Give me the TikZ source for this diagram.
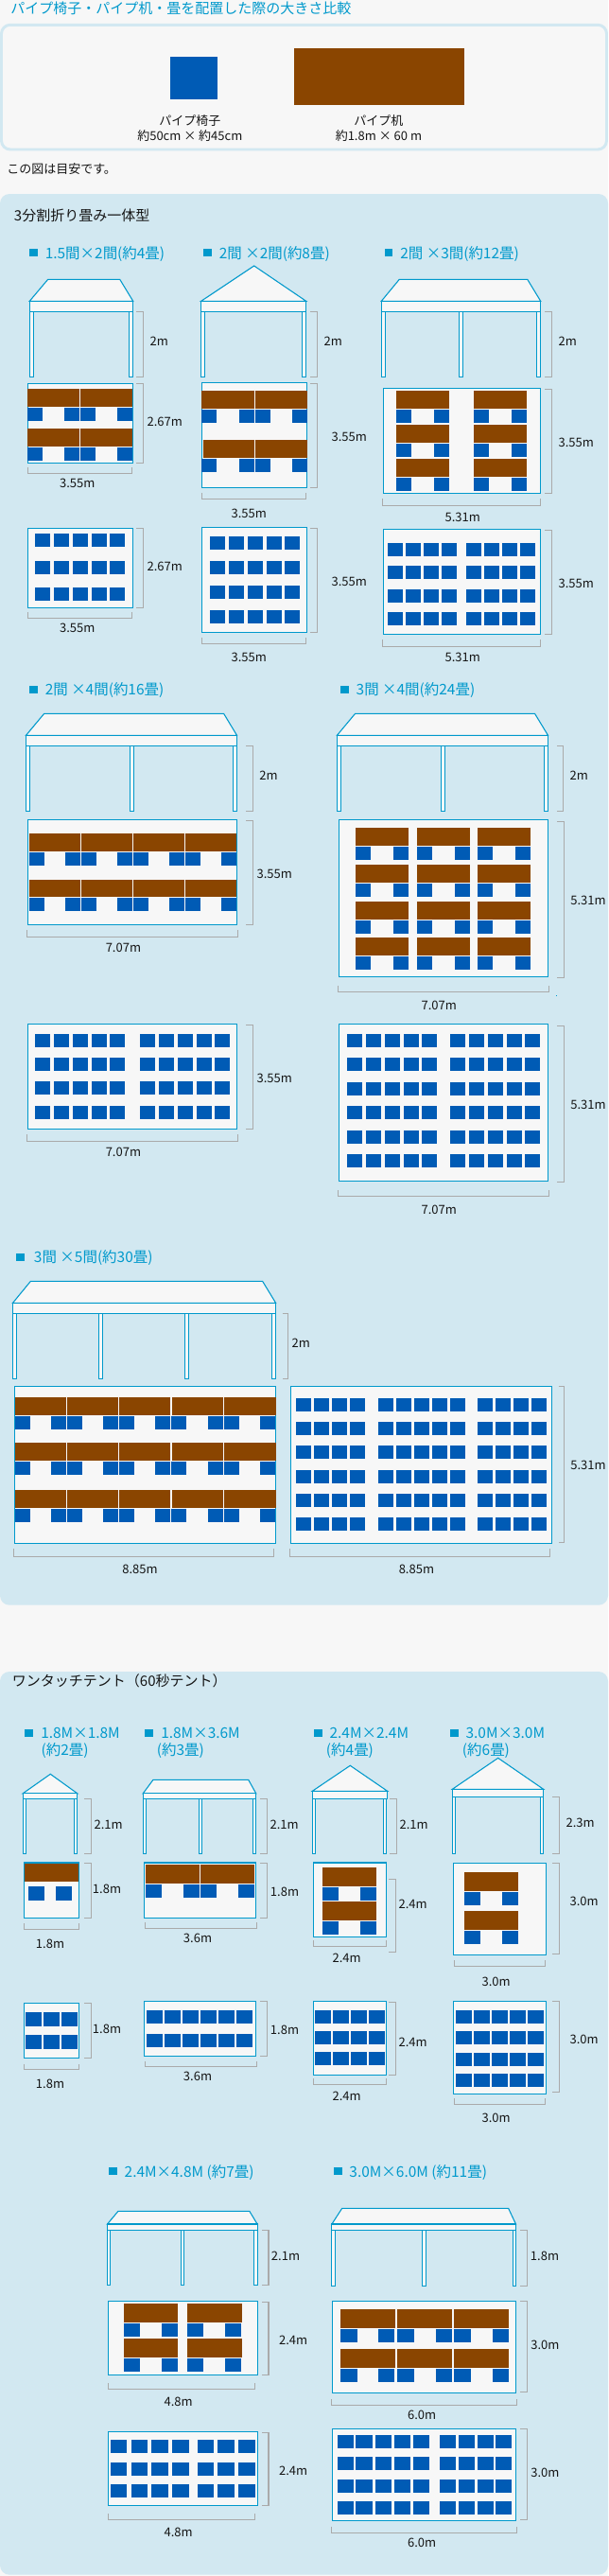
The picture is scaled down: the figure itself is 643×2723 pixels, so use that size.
\documentclass[tikz,border=0pt]{standalone}
\usepackage{fontspec}
\setmainfont{Noto Sans CJK JP}
\definecolor{pagec}{HTML}{F7F7F7}
\definecolor{panelc}{HTML}{D2E8F1}
\definecolor{linec}{HTML}{0099CC}
\definecolor{chairc}{HTML}{005BB5}
\definecolor{deskc}{HTML}{8A4500}
\definecolor{greyc}{HTML}{AAAAAA}
\definecolor{textc}{HTML}{151515}
\newcounter{lb}
\tikzset{
  panelbox/.style={fill=panelc,rounded corners=7.5pt},
  outl/.style={draw=linec,fill=pagec,line width=.8pt,line join=miter},
  brk/.style={draw=greyc,line width=.8pt},
  lbl/.style={inner sep=0pt,text=textc,font=\fontsize{9.75pt}{11pt}\selectfont,text height=7.3pt,text depth=0pt},
  hd/.style={inner sep=0pt,anchor=west,text=linec,font=\fontsize{11.6pt}{13pt}\selectfont,text height=8.7pt,text depth=0pt},
  ttl/.style={inner sep=0pt,anchor=west,text=textc,font=\fontsize{11.25pt}{13pt}\selectfont,text height=8.4pt,text depth=0pt},
}
\newcommand{\tentdraw}[9]{% l r c1 c2 top bandtop bandbot bottom posts
  \foreach \px in {#9}{\draw[outl] (\px,#7) rectangle ++(\pw,#8-#7);}
  \draw[outl] (#1,#6) -- (#3,#5) -- (#4,#5) -- (#2,#6) -- cycle;
  \draw[outl] (#1,#6) rectangle (#2,#7);
}
\newcommand{\plan}[4]{\draw[outl] (#1,#3) rectangle (#2,#4);}
\newcommand{\chairs}[4]{\foreach \px in {#1}{\foreach \py in {#2}{\fill[chairc] (\px,\py) rectangle ++(#3,#4);}}}
\newcommand{\desks}[4]{\foreach \px in {#1}{\foreach \py in {#2}{\fill[deskc] (\px,\py) rectangle ++(#3,#4);}}}
\newcommand{\vbr}[4]{\draw[brk] (#1,#3) -- (#2,#3) -- (#2,#4) -- (#1,#4);}
\newcommand{\hbr}[4]{\draw[brk] (#1,#3) -- (#1,#4) -- (#2,#4) -- (#2,#3);}
\newcommand{\lab}[3]{\stepcounter{lb}\node[lbl] (lab\thelb) at (#1,#2) {#3};}
\newcommand{\head}[3]{\stepcounter{lb}\node[hd] (lab\thelb) at (#1,#2) {#3};}
\newcommand{\hsq}[2]{\fill[linec] (#1,#2-4) rectangle ++(8.8,8);}
\begin{document}
\begin{tikzpicture}[x=.75pt,y=-.75pt]
\useasboundingbox (0,0) rectangle (643,2723);
\fill[pagec] (0,0) rectangle (643,2723);
% ---- top
\node[hd,font=\fontsize{11.25pt}{13pt}\selectfont] (title) at (11,8.5) {パイプ椅子・パイプ机・畳を配置した際の大きさ比較};
\draw[draw=panelc,fill=pagec,line width=2.2pt,rounded corners=7pt] (1.5,26.3) rectangle (641.5,158);
\fill[chairc] (180,60) rectangle (230,105);
\fill[deskc] (310.7,51) rectangle (490.7,111);
\lab{200.8}{128}{パイプ椅子}
\lab{200.8}{143.7}{約50cm × 約45cm}
\lab{400.4}{128}{パイプ机}
\lab{400.4}{143.7}{約1.8m × 60 m}
\node[lbl,anchor=west] (note) at (7,179) {この図は目安です。};
% ---- panel 1
\fill[panelbox] (0,205) rectangle (643,1696.7);
\node[ttl] (sec1) at (14.7,228.3) {3分割折り畳み一体型};
\hsq{31}{267.3} \head{47.5}{267.3}{1.5間×2間(約4畳)}
\hsq{215}{267.3} \head{231.5}{267.3}{2間 ×2間(約8畳)}
\hsq{406.5}{267.3} \head{423}{267.3}{2間 ×3間(約12畳)}
\def\pw{4.2}
% A
\tentdraw{31.3}{140.7}{50.7}{126.7}{295.3}{318.3}{329.7}{398.7}{31.3,136.4}
\vbr{144}{151.7}{329.7}{398.5}\lab{168.3}{360.7}{2m}
\plan{29.3}{140.7}{405.7}{489.3}
\desks{29.3}{411,452.7}{54.7}{19}\desks{85}{411,452.7}{55}{19}
\chairs{29.3,68,85,124}{431,473}{16}{14}
\vbr{144}{151.7}{405.7}{489.3}\lab{174.3}{445.7}{2.67m}
\hbr{29.3}{139.3}{493.7}{500.3}\lab{81.7}{510.7}{3.55m}
\plan{29.3}{140.7}{558.3}{642.3}
\chairs{37,57,77,97,116}{564,593,621}{16}{14}
\vbr{144}{151.7}{558.3}{642.3}\lab{174.3}{598.7}{2.67m}
\hbr{29.3}{139.3}{647.3}{653.3}\lab{81.7}{663.7}{3.55m}
% B
\tentdraw{212.7}{323.7}{268.7}{268.7}{281}{318.3}{329.7}{398.7}{212.7,319.4}
\vbr{328}{335.7}{329.7}{398.5}\lab{352.3}{360.7}{2m}
\plan{213.3}{324.7}{404.3}{515.3}
\desks{213.3}{413}{55.7}{19}\desks{215}{465}{54}{19}\desks{270}{413,465}{55}{19}
\chairs{213.3,253,270,309}{433,485}{16}{14}
\vbr{328}{335.7}{405.7}{515.3}\lab{369.3}{461.7}{3.55m}
\hbr{213.3}{323.3}{521.3}{527.3}\lab{263.3}{542.7}{3.55m}
\plan{213.3}{324.7}{557.3}{668.3}
\chairs{222,242,262,282,301}{567,593,619,645}{16}{14}
\vbr{328}{335.7}{558.3}{668.3}\lab{369.3}{614.7}{3.55m}
\hbr{213.3}{323.3}{674.3}{680.3}\lab{263.3}{695}{3.55m}
% C
\tentdraw{403.3}{571.7}{422.3}{557.7}{295.3}{318.3}{329.7}{398.7}{403.3,485.3,567.4}
\vbr{576}{583.7}{329.7}{398.5}\lab{600.3}{360.7}{2m}
\plan{405.3}{571.7}{410.3}{521.3}
\desks{419,501}{413,449,485}{56}{19}
\chairs{419,459,501,541}{433,469,505}{16}{14}
\vbr{576}{583.7}{411.3}{521.3}\lab{609.3}{467.7}{3.55m}
\hbr{404.7}{571.7}{527}{534.3}\lab{489.3}{546.7}{5.31m}
\plan{405.3}{571.7}{559.3}{670.3}
\chairs{410,429,448,467,493,512,531,550}{574,598,623,647}{16}{14}
\vbr{576}{583.7}{560.3}{670.3}\lab{609.3}{616.7}{3.55m}
\hbr{404.7}{571.7}{676}{683.3}\lab{489.3}{695}{5.31m}
% row 2 headings
\hsq{31}{729} \head{47.5}{729}{2間 ×4間(約16畳)}
\hsq{360}{729} \head{376.4}{729}{3間 ×4間(約24畳)}
% D
\tentdraw{27.5}{250.5}{46.7}{236.6}{754.3}{777.3}{788.4}{857.7}{27.5,137.3,246.3}
\vbr{260.4}{267.8}{788.4}{857.3}\lab{284}{819.8}{2m}
\plan{29.5}{250.5}{866.1}{977.5}
\desks{31,86,141,196}{881}{54.3}{19.2}\desks{31,86,141,196}{930}{54.3}{18}
\chairs{31,69,86,124,141,179,196,234}{900.9,949.1}{16}{14.2}
\vbr{260.4}{267.8}{867.2}{977.5}\lab{290.3}{923.9}{3.55m}
\hbr{28.3}{251.4}{983.2}{990.1}\lab{130.4}{1001.6}{7.07m}
\plan{29.5}{250.5}{1082.3}{1193.7}
\chairs{36.9,57,77.1,97.2,116,148,168,187.8,207.9,227.2}{1093,1117.9,1143.2,1169.2}{16}{14}
\vbr{260.4}{267.8}{1083.5}{1193.7}\lab{290.3}{1139.7}{3.55m}
\hbr{28.3}{251.4}{1199}{1206.3}\lab{130.4}{1217.8}{7.07m}
% E
\tentdraw{356.4}{579.5}{375.6}{565.5}{754.3}{777.3}{788.4}{857.7}{356.4,466.3,575.3}
\vbr{589.3}{595.9}{788.4}{857.3}\lab{612.3}{819.8}{2m}
\plan{358.4}{579.5}{866.1}{1032.6}
\desks{376,441,505}{874.9,913.9,953,990.9}{56}{19}
\chairs{376,415.8,441,481,505,545}{895.2,934.2,972.9,1011.1}{16}{14}
\vbr{589.3}{596.7}{868.4}{1033.3}\lab{622}{951.4}{5.31m}
\hbr{357.6}{580.3}{1041.7}{1048.3}\lab{464.2}{1062.8}{7.07m}
\fill[linec] (588.2,1052.2) rectangle ++(.9,.9);
\plan{358.4}{579.5}{1082.3}{1248.4}
\chairs{367,387.1,406.8,426.9,446.2,476.1,496.2,515.9,536,554.8}{1093,1117.9,1143.9,1169.2,1195.2,1220.1}{16}{14}
\vbr{589.3}{596.7}{1084.6}{1249.6}\lab{622}{1167.3}{5.31m}
\hbr{357.6}{580.3}{1258}{1264.5}\lab{464.2}{1278.6}{7.07m}
% F
\hsq{17.2}{1329} \head{35.7}{1329}{3間 ×5間(約30畳)}
\tentdraw{13.5}{291.6}{32.4}{277.6}{1354.3}{1377.3}{1388.3}{1457.3}{13.5,104.6,195.6,287.5}
\vbr{298.5}{304.7}{1388.3}{1457.3}\lab{318.2}{1420}{2m}
\plan{15.6}{291.6}{1465.3}{1631.3}
\desks{15.6,70.9,125.9,181.7,237}{1477,1525,1575}{54.5}{19}
\chairs{15.6,54.3,70.9,109,125.9,164,180.8,219.8,236.8,275.4}{1497,1545,1595}{16}{14}
\hbr{14.3}{289.5}{1637.3}{1645.3}\lab{148}{1658.7}{8.85m}
\plan{307.6}{583.5}{1465.3}{1631.3}
\chairs{312.9,331.8,350.6,369.9,399.8,418.7,438,456.8,476.1,504.8,524.1,542.9,561.8}{1478,1503,1528,1554,1579,1604}{16}{14}
\vbr{590.5}{596.7}{1465.3}{1630.3}\lab{622}{1548.7}{5.31m}
\hbr{306.3}{581.5}{1637.3}{1645.3}\lab{440.4}{1658.7}{8.85m}
% ---- panel 2
\fill[panelbox] (0,1767) rectangle (643,2721.7);
\node[ttl,font=\fontsize{11.25pt}{13pt}\selectfont] (sec2) at (12.7,1777.3) {ワンタッチテント（60秒テント）};
\hsq{26}{1832} \head{43}{1832}{1.8M×1.8M} \head{43.3}{1849.3}{(約2畳)}
\hsq{153}{1832} \head{170}{1832}{1.8M×3.6M} \head{165.7}{1849.3}{(約3畳)}
\hsq{332}{1832} \head{348.3}{1832}{2.4M×2.4M} \head{344.7}{1849.3}{(約4畳)}
\hsq{476}{1832} \head{492.3}{1832}{3.0M×3.0M} \head{488.7}{1849.3}{(約6畳)}
\def\pw{3.3}
% G
\tentdraw{24.3}{81.7}{53.3}{53.3}{1875.3}{1895.7}{1901.7}{1959.7}{24.3,78.4}
\vbr{89.3}{96.7}{1901.7}{1959.3}\lab{114.7}{1928.7}{2.1m}
\plan{25.3}{83.3}{1969}{2027.3}
\desks{25.7}{1970}{57.6}{19}
\chairs{30,59}{1994}{17}{14.7}
\vbr{89.3}{96.7}{1969.3}{2027.3}\lab{113}{1996.7}{1.8m}
\hbr{25.3}{83.3}{2033.3}{2039.3}\lab{53}{2054.7}{1.8m}
\plan{25.3}{83.3}{2117.3}{2175.3}
\chairs{27,46,65}{2127,2151}{17}{14.7}
\vbr{89.3}{96.7}{2117.3}{2175.3}\lab{113}{2144.7}{1.8m}
\hbr{25.3}{83.3}{2181.7}{2187.3}\lab{53}{2202.7}{1.8m}
% H
\tentdraw{151.3}{270.7}{162}{262.7}{1881.3}{1895.7}{1901.7}{1959.7}{151.3,210.3,267.4}
\vbr{275.3}{282.7}{1901.7}{1959.3}\lab{300.7}{1928.7}{2.1m}
\plan{152.3}{270.7}{1969}{2027.3}
\desks{153.7,211.7}{1970.7}{57.6}{20.3}
\chairs{154,193.7,211.7,251.7}{1991.7}{17}{14.6}
\vbr{275.3}{282.7}{1969.3}{2027.3}\lab{301}{1999.7}{1.8m}
\hbr{153.3}{271.7}{2031.7}{2038.3}\lab{209}{2048.7}{3.6m}
\plan{152.3}{270.7}{2115.3}{2173.3}
\chairs{155,174,193,212,231,250}{2125,2150}{17}{14}
\vbr{275.3}{282.7}{2115.3}{2173.3}\lab{301}{2145.7}{1.8m}
\hbr{153.3}{271.7}{2178.7}{2184.3}\lab{209}{2194.7}{3.6m}
% I
\tentdraw{330.3}{409.7}{370.3}{370.3}{1866.3}{1893.3}{1901.7}{1959.7}{330.3,405.3}
\vbr{412.3}{419.7}{1901.7}{1959.3}\lab{437.7}{1928.7}{2.1m}
\plan{331.3}{408.7}{1969}{2047.3}
\desks{340.7}{1974,2010}{57.3}{20.3}
\chairs{340.7,380.7}{1995,2031}{17.3}{14}
\vbr{411.3}{418.7}{1986.3}{2063.3}\lab{436.7}{2012.7}{2.4m}
\hbr{331.3}{408.7}{2051.3}{2057.3}\lab{366.7}{2069.7}{2.4m}
\plan{331.3}{408.7}{2115.3}{2193.3}
\chairs{333,352,371,390}{2125,2147,2169}{17}{14}
\vbr{411.3}{418.7}{2116.3}{2193.3}\lab{436.7}{2158.7}{2.4m}
\hbr{331.3}{408.7}{2197.3}{2203.3}\lab{366.7}{2215.7}{2.4m}
% J
\tentdraw{478.3}{574.7}{526.7}{526.7}{1858.3}{1891.3}{1899.3}{1959.7}{478.3,571.4}
\vbr{584.3}{591.7}{1899.7}{1959.3}\lab{613.7}{1926.7}{2.3m}
\plan{479.3}{577.7}{1969.3}{2066.3}
\desks{490.7}{1979,2020}{57.3}{20.3}
\chairs{490.7,530.7}{2000,2041}{17.3}{14}
\vbr{584.3}{591.7}{1969.3}{2065.3}\lab{617.7}{2009.7}{3.0m}
\hbr{480.3}{576.7}{2072}{2078.7}\lab{524.7}{2094.7}{3.0m}
\plan{479.3}{577.7}{2115.3}{2213.3}
\chairs{482,501,520,539,558}{2125,2147,2170,2192}{17}{14}
\vbr{584.3}{591.7}{2115.3}{2211.3}\lab{617.7}{2155.7}{3.0m}
\hbr{480.3}{576.7}{2217.7}{2224.3}\lab{524.7}{2239}{3.0m}
% last row
\hsq{114.9}{2295.3} \head{131.4}{2295.3}{2.4M×4.8M (約7畳)}
\hsq{352.7}{2295.3} \head{369.2}{2295.3}{3.0M×6.0M (約11畳)}
% K
\tentdraw{113.5}{272.1}{125}{263.8}{2337.3}{2351}{2357.3}{2415.7}{113.5,191.5,268.9}
\vbr{277.1}{284}{2357.3}{2415.3}\lab{302}{2384.7}{2.1m}
\plan{114.5}{272.1}{2432.3}{2510.3}
\desks{130.7,198}{2435,2472}{57.5}{20}
\chairs{130.7,171,198,237.9}{2456,2493}{17.3}{14.3}
\vbr{277.1}{284}{2433.3}{2510.3}\lab{310.2}{2473.7}{2.4m}
\hbr{114.5}{269.6}{2519}{2525.7}\lab{188.6}{2538.7}{4.8m}
\plan{114.5}{272.1}{2570.3}{2648.3}
\chairs{117,139,160.2,182.2,209.1,230.4,252.3}{2579,2603,2626}{17.3}{14}
\vbr{277.1}{284}{2571.3}{2648.3}\lab{310.2}{2611.7}{2.4m}
\hbr{114.5}{269.6}{2657}{2663.7}\lab{188.6}{2676.7}{4.8m}
% L
\tentdraw{350.9}{545.5}{361.7}{537.6}{2334.3}{2351}{2357.3}{2416.7}{350.9,446.9,542.2}
\vbr{550.1}{557.3}{2357.3}{2416.3}\lab{576}{2384.7}{1.8m}
\plan{351.9}{545.5}{2432.3}{2529.3}
\desks{360.2,420.3,480.4}{2441,2483}{57.5}{20}
\chairs{360.2,400.1,420.3,460.6,480.4,520.6}{2462,2504}{17.3}{14}
\vbr{550.1}{557.3}{2432.3}{2528.3}\lab{576.4}{2478.7}{3.0m}
\hbr{350.9}{546.5}{2536}{2542.3}\lab{446.2}{2552.7}{6.0m}
\plan{351.9}{545.5}{2567.3}{2664.3}
\chairs{356.6,376.4,396.5,416.7,436.5,464.5,484.7,504.8,523.5}{2574,2597,2621,2644}{17.3}{14}
\vbr{550.1}{557.3}{2567.3}{2663.3}\lab{576.4}{2613.7}{3.0m}
\hbr{350.9}{546.5}{2670.7}{2677.3}\lab{446.2}{2687.7}{6.0m}
\end{tikzpicture}
\end{document}
